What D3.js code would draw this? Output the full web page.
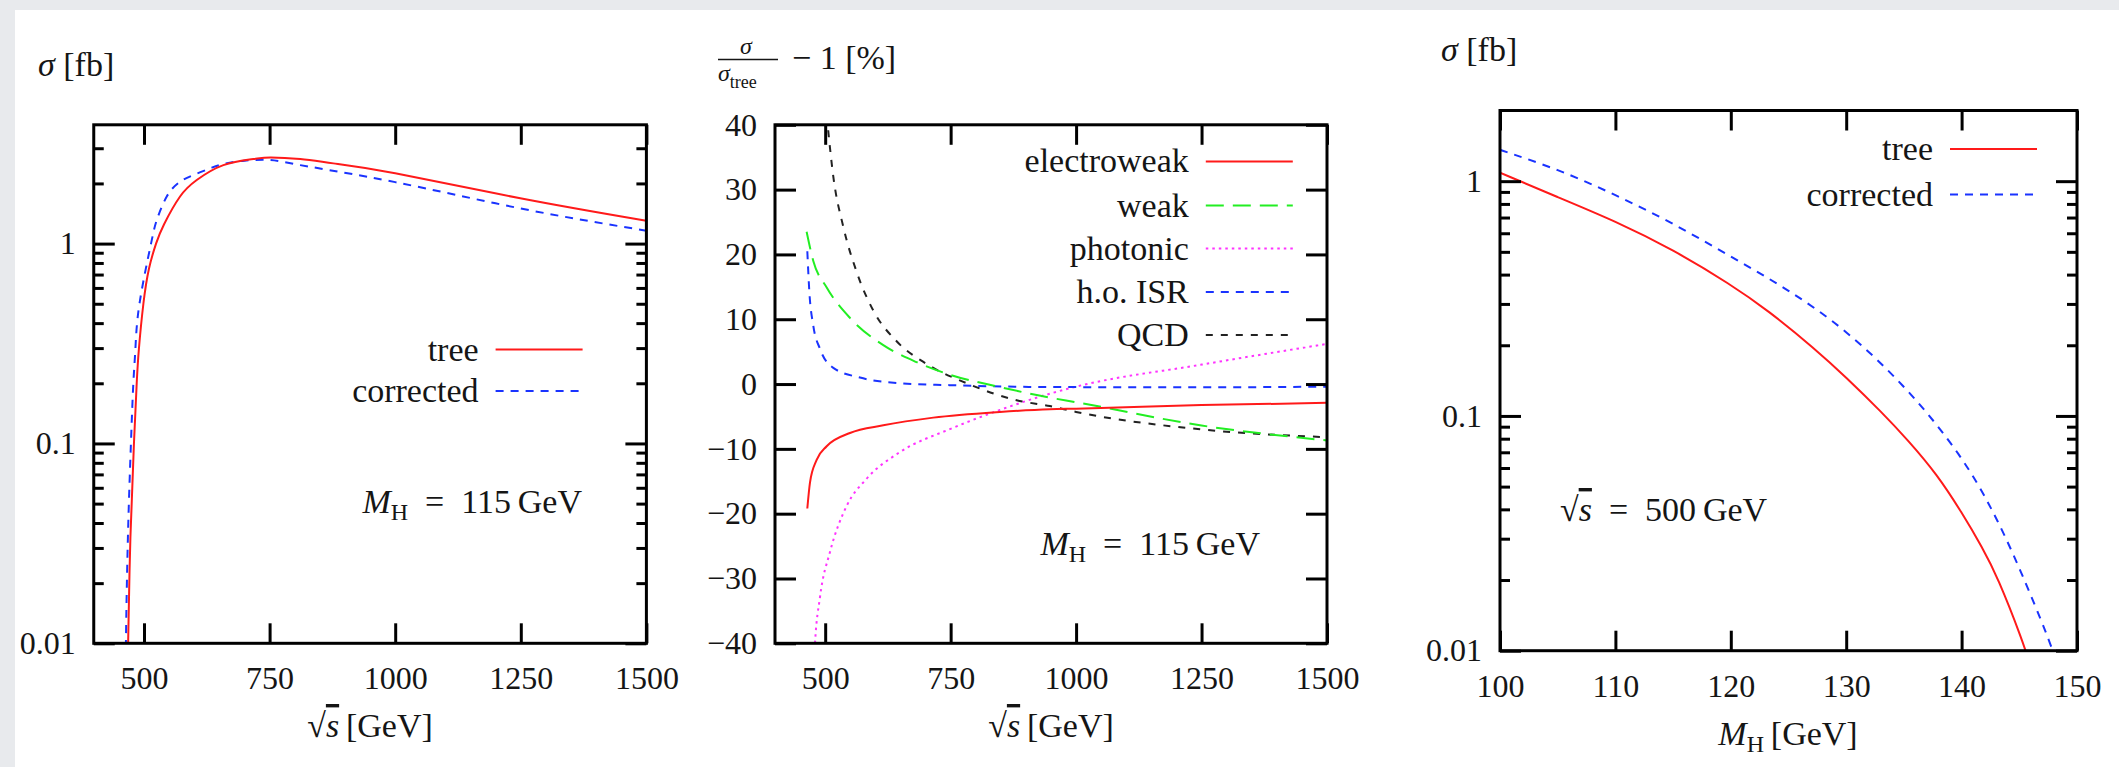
<!DOCTYPE html>
<meta charset="utf-8">
<style>
    body, html {
        margin: 0;
        padding: 0;
        overflow: hidden;
        background: #e8eaed;
    }
    text {
        font-family: "Liberation Serif", "DejaVu Serif", serif;
        fill: #151515;
        font-size: 34px;
    }
    .tick text { font-size: 32px; }
    .tick line { stroke: #000; stroke-width: 3; }
</style>
<svg width="2119" height="767"></svg>
<script src="https://d3js.org/d3.v7.min.js"></script>
<script>
    // ---- left panel: sigma vs sqrt(s), M_H = 115 GeV
    var treeS = [466, 468.4, 473, 480, 485.5, 490, 498.8, 510, 524, 540, 571.8, 605, 658, 717.8, 751.6, 811, 877, 1000, 1249, 1500];
    var treeSigma = [0.004, 0.01, 0.034, 0.1, 0.2, 0.3, 0.5, 0.75, 1.0, 1.25, 1.72, 2.08, 2.47, 2.65, 2.70, 2.65, 2.52, 2.25, 1.685, 1.30];
    var corrS = [462.5, 464, 468, 474, 478.8, 483, 491, 514, 525.4, 545.3, 571.8, 601.7, 635, 658, 700, 751.6, 811, 1000, 1249, 1500];
    var corrSigma = [0.004, 0.01, 0.034, 0.1, 0.2, 0.3, 0.5, 1.0, 1.31, 1.72, 2.04, 2.22, 2.40, 2.50, 2.60, 2.62, 2.47, 2.03, 1.50, 1.16];

    // ---- middle panel: relative corrections in %
    var ewS = [464.4, 469.7, 483, 503, 549.4, 615.8, 715.4, 848.2, 947.8, 1000, 1250, 1500];
    var ewVal = [-19.2, -15.2, -11.7, -9.6, -7.55, -6.37, -5.18, -4.3, -3.88, -3.8, -3.25, -2.9];
    var weakS = [463, 476.3, 503, 549.4, 615.8, 682.3, 748.7, 848.2, 947.8, 1000, 1250, 1500];
    var weakVal = [23.5, 19.0, 14.9, 10.2, 6.0, 3.37, 1.43, -0.46, -2.1, -2.8, -6.4, -8.7];
    var photS = [477, 479.7, 489.6, 509.6, 542.8, 582.7, 649, 748.6, 848.2, 928, 1000, 1250, 1500];
    var photVal = [-44, -40, -32.9, -25.9, -18.8, -14.6, -10.5, -6.95, -4.0, -1.94, -0.4, 3.0, 6.2];
    var isrS = [464.4, 468.4, 476.3, 489.6, 516.2, 569.3, 649, 748.6, 947.8, 1250, 1500];
    var isrVal = [20.5, 14.3, 9.0, 5.44, 2.5, 1.0, 0.13, -0.17, -0.46, -0.5, -0.4];
    var qcdS = [503, 516.2, 536, 562.7, 595.8, 642.4, 702.2, 781.9, 881.5, 947.8, 1000, 1250, 1500];
    var qcdVal = [41.5, 32.0, 24.3, 17.3, 11.35, 6.6, 3.1, 0.13, -2.5, -3.4, -4.3, -7.0, -8.2];

    // ---- right panel: sigma vs M_H, sqrt(s) = 500 GeV
    var mhTree = [100, 105, 110, 115, 120, 123.2, 127.3, 130, 133.1, 135.3, 137.9, 140, 141.8, 143.1, 145.3, 146];
    var mhTreeSigma = [1.087, 0.855, 0.676, 0.511, 0.363, 0.282, 0.193, 0.146, 0.1035, 0.0794, 0.0562, 0.0389, 0.0275, 0.0207, 0.011, 0.0085];
    var mhCorr = [100, 105, 110, 115, 120, 125, 130, 135.4, 140, 142.8, 145, 147.7, 148.3];
    var mhCorrSigma = [1.36, 1.125, 0.876, 0.662, 0.478, 0.345, 0.233, 0.130, 0.068, 0.039, 0.0227, 0.0108, 0.0087];

    // ticks
    var sTicks = [500, 750, 1000, 1250, 1500];
    var mhTicks = [100, 110, 120, 130, 140, 150];
    var logMajor = [0.01, 0.1, 1];
    var logMinorLeft = [0.02, 0.03, 0.04, 0.05, 0.06, 0.07, 0.08, 0.09, 0.2, 0.3, 0.4, 0.5, 0.6, 0.7, 0.8, 0.9, 2, 3];
    var logMinorRight = [0.02, 0.03, 0.04, 0.05, 0.06, 0.07, 0.08, 0.09, 0.2, 0.3, 0.4, 0.5, 0.6, 0.7, 0.8, 0.9];
    var pctTicks = [-40, -30, -20, -10, 0, 10, 20, 30, 40];

    var RED = "#ff1a1a", BLUE = "#1a33ff", GREEN = "#22ee22", MAGENTA = "#ff33ff", BLACK = "#222";

    var svg = d3.select("svg");
    svg.append("rect").attr("width", 2119).attr("height", 767).attr("fill", "#e8eaed");
    svg.append("rect").attr("x", 15).attr("y", 10).attr("width", 2104).attr("height", 757).attr("fill", "#fff");

    function fmtPct(d) { return d < 0 ? "\u2212" + (-d) : "" + d; }

    function styleAxis(sel) {
        sel.select(".domain").remove();
        sel.attr("font-family", null).attr("font-size", null);
        return sel;
    }

    // text made of pieces: {t, it, sub, over, size}
    function mathText(parent, x, y, parts, anchor) {
        var t = parent.append("text").attr("x", x).attr("y", y).attr("text-anchor", anchor || "start");
        var shift = 0;
        parts.forEach(function (p) {
            var sp = t.append("tspan").text(p.t);
            var want = p.sub ? 7 : 0;
            if (want !== shift) { sp.attr("dy", want - shift); shift = want; }
            if (p.it) sp.attr("font-style", "italic");
            if (p.sub) sp.style("font-size", "24px");
            if (p.size) sp.style("font-size", p.size + "px");
            if (p.over) sp.style("text-decoration", "overline");
        });
        return t;
    }

    function panel(o) {
        var g = svg.append("g");
        var x = d3.scaleLinear().domain(o.xDomain).range([o.left, o.right]);
        var y = (o.log ? d3.scaleLog() : d3.scaleLinear()).domain(o.yDomain).range([o.bottom, o.top]);

        g.append("clipPath").attr("id", "clip" + o.id)
            .append("rect").attr("x", o.left).attr("y", o.top)
            .attr("width", o.right - o.left).attr("height", o.bottom - o.top);

        var line = d3.line()
            .x(function (d) { return x(d[0]); })
            .y(function (d) { return y(d[1]); })
            .curve(o.curve || d3.curveMonotoneX);

        o.series.forEach(function (s) {
            g.append("path")
                .datum(d3.zip(s.x, s.y))
                .attr("clip-path", "url(#clip" + o.id + ")")
                .attr("fill", "none")
                .attr("stroke", s.color)
                .attr("stroke-width", 2)
                .attr("stroke-dasharray", s.dash)
                .attr("d", line);
        });

        // axes (ticks point inward)
        styleAxis(g.append("g").attr("transform", "translate(0," + o.bottom + ")")
            .call(d3.axisBottom(x).tickValues(o.xTicks).tickSize(-20).tickFormat(function (d) { return d; })))
            .selectAll("text").attr("y", 46).attr("dy", null);
        styleAxis(g.append("g").attr("transform", "translate(0," + o.top + ")")
            .call(d3.axisTop(x).tickValues(o.xTicks).tickSize(-20).tickFormat("")));
        styleAxis(g.append("g").attr("transform", "translate(" + o.left + ",0)")
            .call(d3.axisLeft(y).tickValues(o.yTicks).tickSize(-21).tickPadding(18).tickFormat(o.yFmt)));
        styleAxis(g.append("g").attr("transform", "translate(" + o.right + ",0)")
            .call(d3.axisRight(y).tickValues(o.yTicks).tickSize(-21).tickFormat("")));
        if (o.yMinor) {
            styleAxis(g.append("g").attr("transform", "translate(" + o.left + ",0)")
                .call(d3.axisLeft(y).tickValues(o.yMinor).tickSize(-10).tickFormat("")));
            styleAxis(g.append("g").attr("transform", "translate(" + o.right + ",0)")
                .call(d3.axisRight(y).tickValues(o.yMinor).tickSize(-10).tickFormat("")));
        }

        g.append("rect").attr("x", o.left).attr("y", o.top)
            .attr("width", o.right - o.left).attr("height", o.bottom - o.top)
            .attr("fill", "none").attr("stroke", "#000").attr("stroke-width", 3);

        // legend
        o.legend.forEach(function (L) {
            g.append("text").attr("x", o.legX).attr("y", L.y + 11).attr("text-anchor", "end").text(L.label);
            g.append("line").attr("x1", o.legX + 17).attr("x2", o.legX + 104)
                .attr("y1", L.y).attr("y2", L.y)
                .attr("stroke", L.color).attr("stroke-width", 2).attr("stroke-dasharray", L.dash);
        });
        return g;
    }

    var EQ = "\u2002=\u2002";

    // left
    panel({
        id: 1, left: 93.75, right: 646.4, top: 124.8, bottom: 643.3,
        xDomain: [400, 1500], yDomain: [0.01, 3.93], log: true,
        xTicks: sTicks, yTicks: logMajor, yMinor: logMinorLeft,
        yFmt: function (d) { return d; },
        curve: d3.curveNatural,
        series: [
            { x: corrS, y: corrSigma, color: BLUE, dash: "8,7" },
            { x: treeS, y: treeSigma, color: RED, dash: null }
        ],
        legX: 478.6,
        legend: [
            { label: "tree", y: 349.5, color: RED, dash: null },
            { label: "corrected", y: 391, color: BLUE, dash: "8,7" }
        ]
    });
    mathText(svg, 38, 76, [{ t: "\u03c3", it: true }, { t: " [fb]" }]);
    mathText(svg, 582, 513, [{ t: "M", it: true }, { t: "H", sub: true }, { t: EQ + "115\u2009GeV" }], "end");
    mathText(svg, 370, 737, [{ t: "\u221a" }, { t: "s", it: true, over: true }, { t: "\u2009[GeV]" }], "middle");

    // middle
    panel({
        id: 2, left: 775, right: 1327, top: 124.8, bottom: 643.3,
        xDomain: [400, 1500], yDomain: [-40, 40], log: false,
        xTicks: sTicks, yTicks: pctTicks, yMinor: null,
        yFmt: fmtPct,
        series: [
            { x: photS, y: photVal, color: MAGENTA, dash: "2.5,4" },
            { x: isrS, y: isrVal, color: BLUE, dash: "8,7" },
            { x: qcdS, y: qcdVal, color: BLACK, dash: "7,8" },
            { x: weakS, y: weakVal, color: GREEN, dash: "18,9" },
            { x: ewS, y: ewVal, color: RED, dash: null }
        ],
        legX: 1188.8,
        legend: [
            { label: "electroweak", y: 161.4, color: RED, dash: null },
            { label: "weak", y: 205.5, color: GREEN, dash: "18,9" },
            { label: "photonic", y: 248.5, color: MAGENTA, dash: "2.5,4" },
            { label: "h.o. ISR", y: 292, color: BLUE, dash: "8,7" },
            { label: "QCD", y: 335, color: BLACK, dash: "7,8" }
        ]
    });
    svg.append("text").attr("x", 746).attr("y", 54).attr("text-anchor", "middle")
        .attr("font-style", "italic").style("font-size", "24px").text("\u03c3");
    svg.append("line").attr("x1", 718).attr("x2", 778).attr("y1", 59.5).attr("y2", 59.5)
        .attr("stroke", "#151515").attr("stroke-width", 1.6);
    mathText(svg, 718, 81, [{ t: "\u03c3", it: true, size: 24 }, { t: "tree", sub: true, size: 18 }]);
    mathText(svg, 792, 69, [{ t: "\u2212 1 [%]" }]);
    mathText(svg, 1260, 555, [{ t: "M", it: true }, { t: "H", sub: true }, { t: EQ + "115\u2009GeV" }], "end");
    mathText(svg, 1051, 737, [{ t: "\u221a" }, { t: "s", it: true, over: true }, { t: "\u2009[GeV]" }], "middle");

    // right
    panel({
        id: 3, left: 1500, right: 2077, top: 110.5, bottom: 650.7,
        xDomain: [100, 150], yDomain: [0.01, 2.0], log: true,
        xTicks: mhTicks, yTicks: logMajor, yMinor: logMinorRight,
        yFmt: function (d) { return d; },
        curve: d3.curveBasis,
        series: [
            { x: mhCorr, y: mhCorrSigma, color: BLUE, dash: "8,7" },
            { x: mhTree, y: mhTreeSigma, color: RED, dash: null }
        ],
        legX: 1933,
        legend: [
            { label: "tree", y: 149, color: RED, dash: null },
            { label: "corrected", y: 194.5, color: BLUE, dash: "8,7" }
        ]
    });
    mathText(svg, 1441, 61, [{ t: "\u03c3", it: true }, { t: " [fb]" }]);
    mathText(svg, 1560, 521, [{ t: "\u221a" }, { t: "s", it: true, over: true }, { t: EQ + "500\u2009GeV" }]);
    mathText(svg, 1788, 745, [{ t: "M", it: true }, { t: "H", sub: true }, { t: "\u2009[GeV]" }], "middle");
</script>
